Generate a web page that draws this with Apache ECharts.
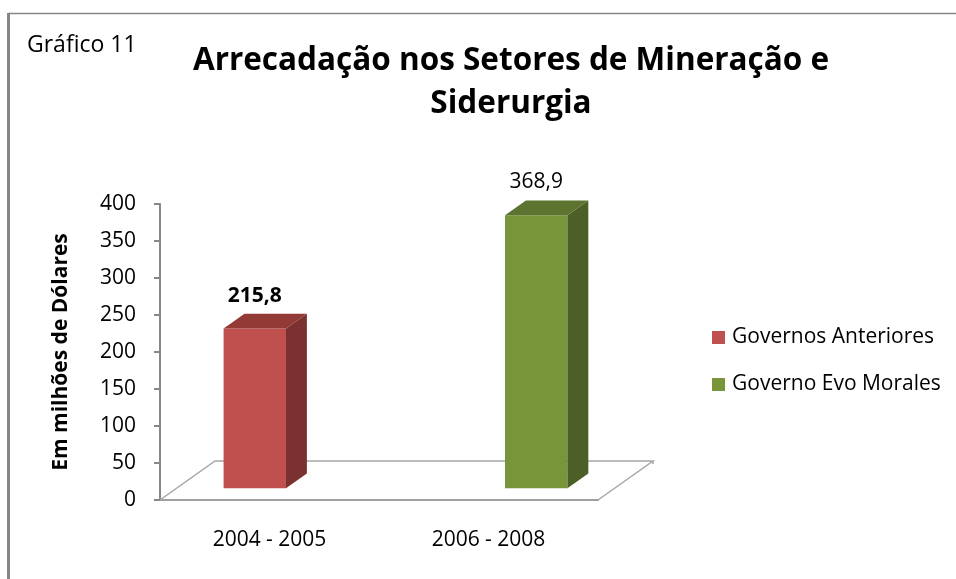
<!DOCTYPE html>
<html>
<head>
<meta charset="utf-8">
<title>Arrecadação nos Setores de Mineração e Siderurgia</title>
<script src="https://cdn.jsdelivr.net/npm/echarts@6/dist/echarts.min.js"></script>
<style>
    html, body { margin: 0; padding: 0; background: #fff; }
    #chart { width: 956px; height: 579px; }
</style>
</head>
<body>
<div id="chart"></div>
<script>
    // dados
    const categorias = ['2004 - 2005', '2006 - 2008']
    const nomesSeries = ['Governos Anteriores', 'Governo Evo Morales']
    const governosAnteriores = [215.8, null]
    const governoEvoMorales = [null, 368.9]
    const ticksY = {min: 0, max: 400, interval: 50}

    const FONT = '"Open Sans", "DejaVu Sans", sans-serif'
    // profundidade do piso 3D (px) e posição das barras nela
    const PISO_DX = 55, PISO_DY = -39
    const FRENTE = 0.3, FUNDO = 0.68
    const LARGURA_BARRA = 0.285

    const cores = [
        {frente: '#c0504d', lado: '#7a3130', topo: '#933a37', label: 'bold'},
        {frente: '#789539', lado: '#4c5f26', topo: '#5d7330', label: 'normal'}
    ]

    function fmt(v) {
        return v.toFixed(1).replace('.', ',')
    }

    function renderBarra(slot) {
        const c = cores[slot]
        return function (params, api) {
            const cat = api.value(0)
            const val = api.value(1)
            const catW = api.size([1, 0])[0]
            const w = catW * LARGURA_BARRA
            const base = api.coord([cat, 0])
            const topo = api.coord([cat, val])
            const fx = PISO_DX * FRENTE, fy = PISO_DY * FRENTE
            const d = FUNDO - FRENTE
            const dx = PISO_DX * d, dy = PISO_DY * d
            const x0 = base[0] + (slot - 1) * w + fx
            const x1 = x0 + w
            const yb = base[1] + fy
            const yt = topo[1] + fy
            return {
                type: 'group',
                children: [
                    {type: 'rect', shape: {x: x0, y: yt, width: w, height: yb - yt}, style: {fill: c.frente}},
                    {type: 'polygon', shape: {points: [[x1, yt], [x1 + dx, yt + dy], [x1 + dx, yb + dy], [x1, yb]]}, style: {fill: c.lado}},
                    {type: 'polygon', shape: {points: [[x0, yt], [x0 + dx, yt + dy], [x1 + dx, yt + dy], [x1, yt]]}, style: {fill: c.topo}},
                    {
                        type: 'text',
                        style: {
                            x: x0 + w / 2, y: yt - 33, text: fmt(val),
                            align: 'center', verticalAlign: 'middle',
                            font: c.label + ' 21px ' + FONT, fill: '#000'
                        }
                    }
                ]
            }
        }
    }

    function renderPiso(params, api) {
        const cs = params.coordSys
        const l = cs.x, r = cs.x + cs.width, b = cs.y + cs.height
        const estilo = {stroke: '#a6a6a6', lineWidth: 1.5, fill: null}
        return {
            type: 'group',
            children: [
                {type: 'polyline', shape: {points: [[l, b], [l + PISO_DX, b + PISO_DY], [r + PISO_DX, b + PISO_DY], [r, b]]}, style: estilo},
                {type: 'line', shape: {x1: r + PISO_DX, y1: b + PISO_DY, x2: r + PISO_DX, y2: b + PISO_DY + 3}, style: estilo}
            ]
        }
    }

    function pares(arr) {
        return arr.map((v, i) => [i, v]).filter(p => p[1] != null)
    }

    const chart = echarts.init(document.getElementById('chart'))
    chart.setOption({
        animation: false,
        graphic: [
            {type: 'line', shape: {x1: 8.5, y1: 13, x2: 8.5, y2: 579}, style: {stroke: '#868686', lineWidth: 3}},
            {type: 'line', shape: {x1: 8, y1: 13.5, x2: 956, y2: 13.5}, style: {stroke: '#868686', lineWidth: 1.5}},
            {
                type: 'text', x: 27, y: 45,
                style: {text: 'Gráfico 11', font: '23px ' + FONT, fill: '#000', verticalAlign: 'middle'}
            },
            {
                type: 'text', x: 511, y: 40,
                style: {
                    text: 'Arrecadação nos Setores de Mineração e\nSiderurgia',
                    font: 'bold 31.5px ' + FONT, lineHeight: 43, fill: '#000',
                    align: 'center', verticalAlign: 'top'
                }
            }
        ],
        legend: {
            orient: 'vertical',
            left: 707,
            top: 322,
            itemWidth: 13,
            itemHeight: 13,
            itemGap: 26,
            icon: 'rect',
            data: nomesSeries,
            textStyle: {fontFamily: FONT, fontSize: 21, color: '#000', padding: [0, 0, 0, 2]}
        },
        grid: {left: 160, right: 358, top: 204, bottom: 79},
        xAxis: {
            type: 'category',
            data: categorias,
            axisLine: {lineStyle: {color: '#a0a0a0', width: 2}},
            axisTick: {length: 9, lineStyle: {color: '#878787', width: 2}},
            axisLabel: {fontFamily: FONT, fontSize: 21, color: '#000', margin: 30}
        },
        yAxis: {
            type: 'value',
            min: ticksY.min,
            max: ticksY.max,
            interval: ticksY.interval,
            name: 'Em milhões de Dólares',
            nameLocation: 'middle',
            nameGap: 88,
            nameTextStyle: {fontFamily: FONT, fontSize: 21, fontWeight: 'bold', color: '#000'},
            axisLine: {show: true, lineStyle: {color: '#878787', width: 2}},
            axisTick: {show: true, length: 6, lineStyle: {color: '#878787', width: 2}},
            axisLabel: {fontFamily: FONT, fontSize: 21, color: '#000', margin: 24},
            splitLine: {show: false}
        },
        series: [
            {
                name: 'piso',
                type: 'custom',
                renderItem: renderPiso,
                data: [[0, 0]],
                silent: true,
                z: 1
            },
            {
                name: nomesSeries[0],
                type: 'custom',
                renderItem: renderBarra(0),
                itemStyle: {color: cores[0].frente},
                data: pares(governosAnteriores),
                z: 2
            },
            {
                name: nomesSeries[1],
                type: 'custom',
                renderItem: renderBarra(1),
                itemStyle: {color: cores[1].frente},
                data: pares(governoEvoMorales),
                z: 2
            }
        ]
    })
</script>
</body>
</html>
